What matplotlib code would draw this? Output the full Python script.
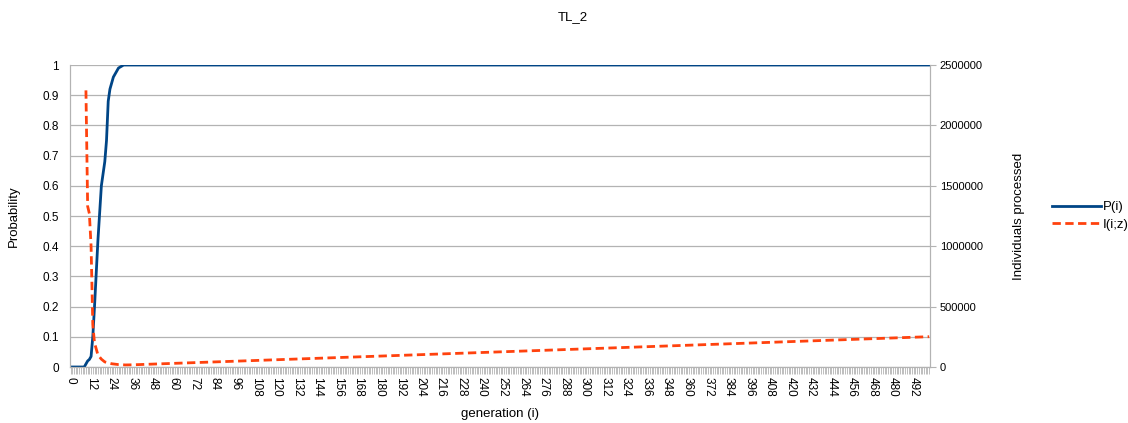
import matplotlib.pyplot as plt
from matplotlib.ticker import MultipleLocator, FixedLocator

plt.rcParams['font.family'] = ['Liberation Sans', 'DejaVu Sans']

# generations covered by the category axis
n_gen = 502
tick_labels = list(range(0, 493, 12))

# P(i) (generation, probability)
p_gen = [0, 8, 10, 11, 12, 13, 14, 16, 18, 20, 21, 22, 23, 25, 28, 31, 501]
p_val = [0, 0, 0.02, 0.025, 0.035, 0.1, 0.2, 0.42, 0.6, 0.68, 0.75, 0.88, 0.92,
         0.96, 0.99, 1.0, 1.0]

# I(i;z) individuals processed (generation, count)
i_gen = [9, 10, 11, 12, 13, 14, 16, 18, 20, 24, 28, 32, 36, 100, 200, 300, 400, 501]
i_val = [2290000, 1330000, 1270000, 1000000, 350000, 200000, 100000, 65000, 42000,
         27000, 20000, 17000, 18000, 50000, 100000, 150000, 200000, 251000]

blue = '#004586'
orange = '#ff420e'
gray = '#b3b3b3'

fig = plt.figure(figsize=(11.28, 4.23), dpi=100)
ax = fig.add_axes([70/1128, 1-367/423, 860/1128, 302/423])
ax2 = ax.twinx()

l1, = ax.plot(p_gen, p_val, color=blue, lw=2, label='P(i)')
l2, = ax2.plot(i_gen, i_val, color=orange, lw=2, ls=(0, (3, 1.6)), label='I(i;z)')

ax.set_xlim(-0.3, n_gen - 0.5)
ax.set_ylim(0, 1)
ax2.set_ylim(0, 2500000)

ax.set_yticks([k / 10 for k in range(11)])
ax.set_yticklabels(['0'] + ['%g' % (k / 10) for k in range(1, 11)])
r_ticks = list(range(0, 2500001, 500000))
ax2.set_yticks(r_ticks)
ax2.set_yticklabels([str(t) for t in r_ticks])
ax.yaxis.grid(True, color=gray, lw=0.9)
ax.set_axisbelow(True)

ax.xaxis.set_major_locator(FixedLocator(tick_labels))
ax.set_xticklabels([str(t) for t in tick_labels], rotation=-90)
ax.xaxis.set_minor_locator(MultipleLocator(1))
ax.tick_params(axis='x', which='minor', length=5, width=0.6, color=gray)
ax.tick_params(axis='x', which='major', length=5, width=0.6, color=gray,
               labelsize=8.5, pad=2)
ax.tick_params(axis='y', length=0, labelsize=8.5, pad=8)
ax2.tick_params(axis='y', length=4, color=gray, labelsize=8, pad=3)

for a in (ax, ax2):
    a.spines['top'].set_visible(False)
    for s in ('left', 'right', 'bottom'):
        a.spines[s].set_color(gray)

ax.set_xlabel('generation (i)', fontsize=9.5, labelpad=8)
ax.set_ylabel('Probability', fontsize=9.5, labelpad=16)
ax2.set_ylabel('Individuals processed', fontsize=9.5, labelpad=22)
fig.text(573/1128, 1-17/423, 'TL_2', ha='center', va='center', fontsize=9.5)

fig.legend([l1, l2], ['P(i)', 'I(i;z)'], loc='center left',
           bbox_to_anchor=(1040/1128, 1-216/423), frameon=False, fontsize=9.5,
           handlelength=3.7, handletextpad=0.15, labelspacing=0.4)

fig.savefig('out.png', dpi=100)
